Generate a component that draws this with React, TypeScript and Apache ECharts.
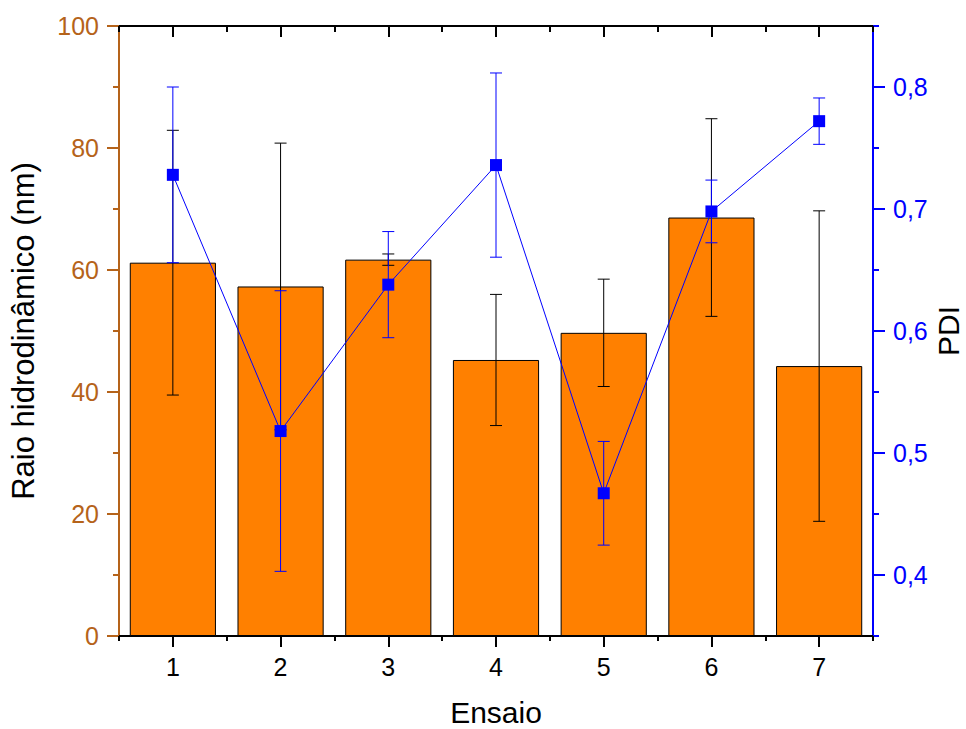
import { useEffect, useRef } from 'react';
import * as echarts from 'echarts';

// Ensaios (x categories)
const ensaios = ['1', '2', '3', '4', '5', '6', '7'];
// Raio hidrodinâmico (nm): mean and symmetric error
const raio = [61.2, 57.3, 61.7, 45.25, 49.7, 68.6, 44.25];
const raioErro = [21.7, 23.5, 0.93, 10.75, 8.8, 16.2, 25.45];
// PDI: mean and symmetric error
const pdi = [0.728, 0.518, 0.638, 0.736, 0.467, 0.698, 0.772];
const pdiErro = [0.072, 0.115, 0.0435, 0.0755, 0.0425, 0.0257, 0.019];
// Labelled ticks of the PDI axis
const pdiTicks = [0.4, 0.5, 0.6, 0.7, 0.8];

const FONT = 'Liberation Sans, Arial, Helvetica, sans-serif';
const ORANGE_AXIS = '#B5631A';
const BAR_FILL = '#FF8000';
const BLUE = '#0000FF';

const errorRenderer = (color: string) => (params: any, api: any) => {
  const x = api.value(0);
  const lo = api.coord([x, api.value(1)]);
  const hi = api.coord([x, api.value(2)]);
  const hw = 6;
  const style = { stroke: color, lineWidth: 1 };
  return {
    type: 'group',
    children: [
      { type: 'line', shape: { x1: lo[0], y1: lo[1], x2: hi[0], y2: hi[1] }, style },
      { type: 'line', shape: { x1: lo[0] - hw, y1: lo[1], x2: lo[0] + hw, y2: lo[1] }, style },
      { type: 'line', shape: { x1: hi[0] - hw, y1: hi[1], x2: hi[0] + hw, y2: hi[1] }, style },
    ],
  };
};

export default function App() {
  const ref = useRef<HTMLDivElement>(null);

  useEffect(() => {
    document.body.style.margin = '0';
    if (!ref.current) return;
    const chart = echarts.init(ref.current, null, { renderer: 'svg' });

    const raioErrData = raio.map((v, i) => [i, v - raioErro[i], v + raioErro[i]]);
    const pdiErrData = pdi.map((v, i) => [i, v - pdiErro[i], v + pdiErro[i]]);

    const blackLine = { color: '#000', width: 2 };
    const catBase = {
      type: 'category' as const,
      data: ensaios,
      boundaryGap: true,
    };

    chart.setOption({
      animation: false,
      backgroundColor: '#fff',
      textStyle: { fontFamily: FONT },
      grid: {
        left: 119,
        right: 93,
        top: 26,
        bottom: 93,
        containLabel: false,
        outerBoundsMode: 'none',
      },
      xAxis: [
        {
          ...catBase,
          position: 'bottom',
          name: 'Ensaio',
          nameLocation: 'middle',
          nameGap: 61,
          nameMoveOverlap: false,
          nameTextStyle: { fontSize: 30, color: '#000', fontFamily: FONT },
          axisLine: { show: true, lineStyle: blackLine },
          axisTick: { show: true, alignWithLabel: true, length: 11, lineStyle: blackLine },
          axisLabel: { show: true, fontSize: 25, color: '#000', margin: 18, fontFamily: FONT },
          splitLine: { show: false },
        },
        {
          ...catBase,
          position: 'bottom',
          axisLine: { show: false },
          axisTick: { show: true, alignWithLabel: false, length: 5, lineStyle: blackLine },
          axisLabel: { show: false },
          splitLine: { show: false },
        },
        {
          ...catBase,
          position: 'top',
          axisLine: { show: true, lineStyle: blackLine },
          axisTick: { show: true, inside: true, alignWithLabel: true, length: 11, lineStyle: blackLine },
          axisLabel: { show: false },
          splitLine: { show: false },
        },
        {
          ...catBase,
          position: 'top',
          axisLine: { show: false },
          axisTick: { show: true, inside: true, alignWithLabel: false, length: 6, lineStyle: blackLine },
          axisLabel: { show: false },
          splitLine: { show: false },
        },
      ],
      yAxis: [
        {
          type: 'value',
          position: 'left',
          min: 0,
          max: 100,
          interval: 20,
          name: 'Raio hidrodinâmico (nm)',
          nameLocation: 'middle',
          nameRotate: 90,
          nameGap: 80,
          nameMoveOverlap: false,
          nameTextStyle: { fontSize: 31, color: '#000', fontFamily: FONT },
          axisLine: { show: true, lineStyle: { color: ORANGE_AXIS, width: 2 } },
          axisTick: { show: true, length: 12, lineStyle: { color: ORANGE_AXIS, width: 2 } },
          minorTick: { show: true, splitNumber: 2, length: 6, lineStyle: { color: ORANGE_AXIS, width: 2 } },
          axisLabel: { fontSize: 25, color: ORANGE_AXIS, margin: 20, fontFamily: FONT },
          splitLine: { show: false },
        },
        {
          type: 'value',
          position: 'right',
          min: 0.35,
          max: 0.85,
          name: 'PDI',
          nameLocation: 'middle',
          nameRotate: 90,
          nameGap: 60,
          nameMoveOverlap: false,
          nameTextStyle: { fontSize: 30, lineHeight: 30, color: '#000', fontFamily: FONT },
          axisLine: { show: true, lineStyle: { color: BLUE, width: 2 } },
          axisTick: { show: true, length: 12, customValues: pdiTicks, lineStyle: { color: BLUE, width: 2 } },
          axisLabel: {
            customValues: pdiTicks,
            fontSize: 25,
            color: BLUE,
            margin: 20,
            fontFamily: FONT,
            formatter: (v: number) => v.toFixed(1).replace('.', ','),
          },
          splitLine: { show: false },
        },
        {
          type: 'value',
          position: 'right',
          min: 0.35,
          max: 0.85,
          interval: 0.05,
          axisLine: { show: false },
          axisTick: { show: true, length: 6, lineStyle: { color: BLUE, width: 2 } },
          axisLabel: { show: false },
          splitLine: { show: false },
        },
      ],
      series: [
        {
          name: 'Raio hidrodinâmico',
          type: 'bar',
          xAxisIndex: 0,
          yAxisIndex: 0,
          data: raio,
          barWidth: '80%',
          itemStyle: { color: BAR_FILL, borderColor: '#000', borderWidth: 1 },
          z: 2,
        },
        {
          name: 'Erro raio',
          type: 'custom',
          xAxisIndex: 0,
          yAxisIndex: 0,
          data: raioErrData,
          encode: { x: 0, y: [1, 2] },
          renderItem: errorRenderer('#000'),
          z: 3,
        },
        {
          name: 'Erro PDI',
          type: 'custom',
          xAxisIndex: 0,
          yAxisIndex: 1,
          data: pdiErrData,
          encode: { x: 0, y: [1, 2] },
          renderItem: errorRenderer(BLUE),
          z: 4,
        },
        {
          name: 'PDI',
          type: 'line',
          xAxisIndex: 0,
          yAxisIndex: 1,
          data: pdi,
          symbol: 'rect',
          symbolSize: 12,
          showAllSymbol: true,
          itemStyle: { color: BLUE },
          lineStyle: { color: BLUE, width: 1 },
          z: 5,
        },
      ],
    });

    return () => chart.dispose();
  }, []);

  return <div ref={ref} style={{ width: 966, height: 729 }} />;
}
